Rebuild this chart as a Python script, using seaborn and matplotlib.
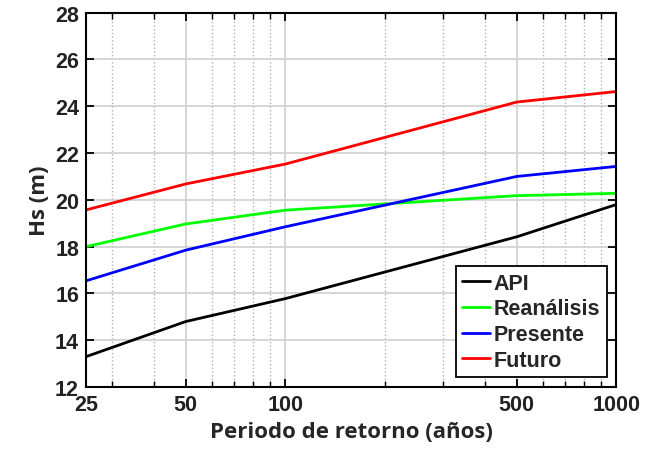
import pandas as pd
import seaborn as sns
import matplotlib.pyplot as plt
from matplotlib.ticker import FixedLocator, NullFormatter

# data
periodos = [25, 50, 100, 500, 1000]
api = [13.3, 14.8, 15.78, 18.42, 19.8]
reanalisis = [18.0, 18.97, 19.56, 20.18, 20.28]
presente = [16.54, 17.85, 18.85, 21.0, 21.43]
futuro = [19.57, 20.68, 21.53, 24.18, 24.63]

series = ['API', 'Reanálisis', 'Presente', 'Futuro']
colores = ['#000000', '#00ff00', '#0000ff', '#ff0000']

df = pd.DataFrame({
    'T': periodos * 4,
    'Hs': api + reanalisis + presente + futuro,
    'serie': [s for s in series for _ in periodos],
})

sns.set_style('white')
plt.rcParams['font.family'] = ['Liberation Sans', 'DejaVu Sans']

fig = plt.figure(figsize=(6.57, 4.56), dpi=100)
ax = fig.add_axes([0.131, 0.149, 0.807, 0.821])

sns.lineplot(data=df, x='T', y='Hs', hue='serie', hue_order=series,
             palette=colores, linewidth=2, ax=ax, legend=True)

ax.set_xscale('log')
ax.set_xlim(25, 1000)
ax.set_ylim(12, 28)
ax.xaxis.set_major_locator(FixedLocator(periodos))
ax.set_xticklabels([str(p) for p in periodos])
minors = [30, 40, 60, 70, 80, 90, 200, 300, 400, 600, 700, 800, 900]
ax.xaxis.set_minor_locator(FixedLocator(minors))
ax.xaxis.set_minor_formatter(NullFormatter())
ax.set_yticks(range(12, 29, 2))

ax.grid(which='major', color='#d0d0d0', linestyle='-', linewidth=1.2)
ax.grid(which='minor', axis='x', color='#b0b0b0', linestyle=':', linewidth=1)

for s in ax.spines.values():
    s.set_color('black')
    s.set_linewidth(1.5)

ax.tick_params(which='both', direction='in', top=True, right=True,
               bottom=True, left=True, color='black')
ax.tick_params(which='major', length=6, width=1.3, labelsize=15.5, pad=5)
ax.tick_params(which='minor', length=4, width=1)
for lab in ax.get_xticklabels() + ax.get_yticklabels():
    lab.set_fontweight('bold')
    lab.set_color('#222222')

ax.set_xlabel('Periodo de retorno (años)', fontsize=16, fontweight='bold',
              family=['Open Sans', 'DejaVu Sans'], labelpad=4)
ax.set_ylabel('Hs (m)', fontsize=16, fontweight='bold',
              family=['Open Sans', 'DejaVu Sans'], labelpad=4)

leg = ax.legend(loc='lower right', frameon=True, fancybox=False,
                edgecolor='black', handlelength=1.3, handletextpad=0.15,
                borderpad=0.3, labelspacing=0.22, borderaxespad=0.45,
                prop={'weight': 'bold', 'size': 15.5})
leg.get_frame().set_linewidth(1.3)
leg.get_frame().set_alpha(1)

fig.savefig('out.png', dpi=100)
